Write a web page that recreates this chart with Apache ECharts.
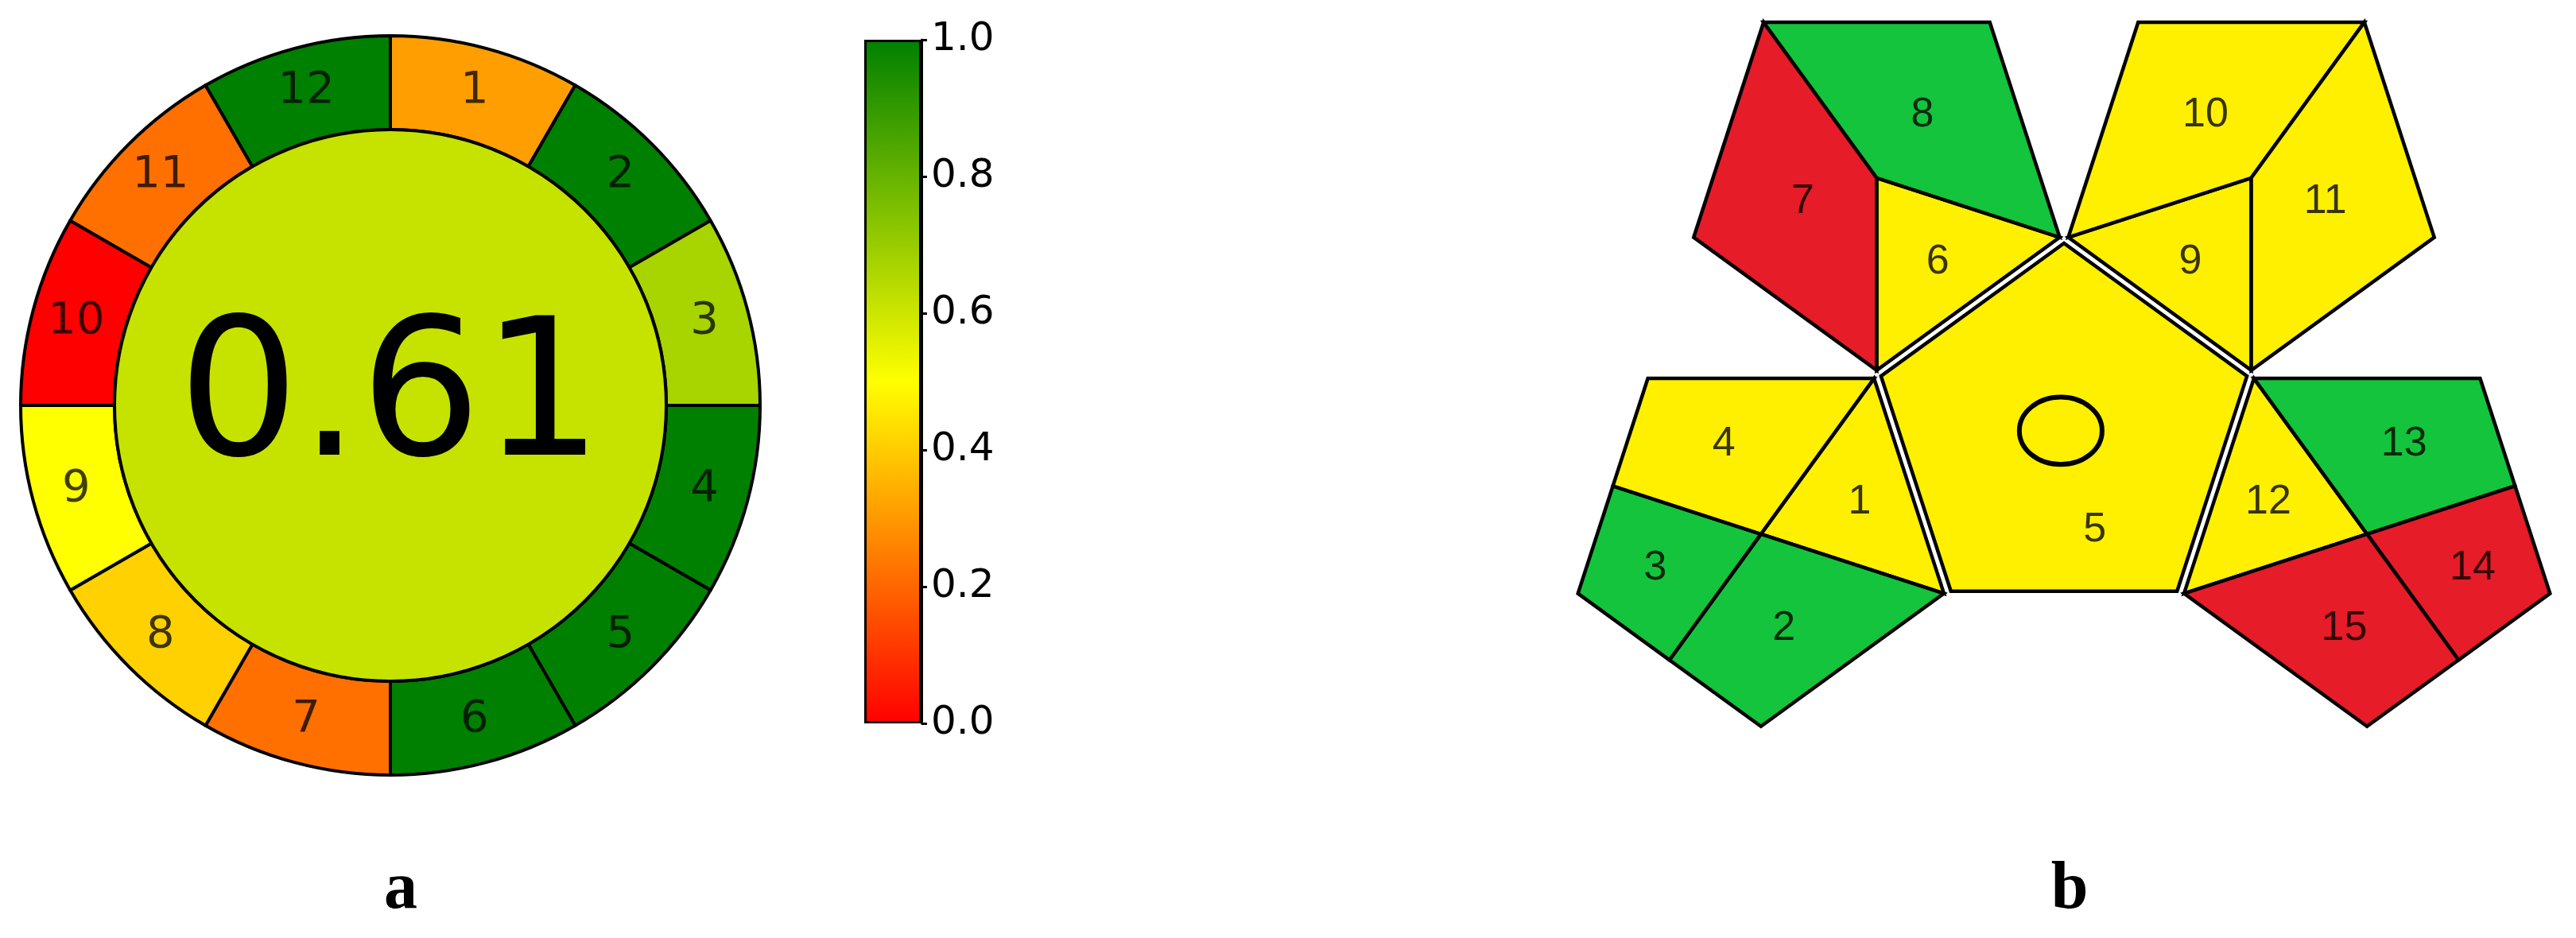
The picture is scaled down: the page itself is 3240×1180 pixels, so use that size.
<!DOCTYPE html>
<html>
<head>
<meta charset="utf-8">
<script src="https://cdn.jsdelivr.net/npm/echarts@6/dist/echarts.min.js"></script>
<style>
  html, body { margin: 0; padding: 0; background: #ffffff; }
  #chart { width: 3240px; height: 1180px; }
</style>
</head>
<body>
<div id="chart"></div>
<script>
// ---------------- DATA ----------------
// (a) AGREE pictogram: 12 principles, equal weights, scores 0..1
const agreeLabels  = ['1','2','3','4','5','6','7','8','9','10','11','12'];
const agreeWeights = [1,1,1,1,1,1,1,1,1,1,1,1];
const agreeScores  = [0.31, 1.0, 0.67, 1.0, 1.0, 1.0, 0.22, 0.41, 0.5, 0.0, 0.22, 1.0];
// colour-bar scale
const colorbarMin = 0, colorbarMax = 1, colorbarStep = 0.2;
// (b) GAPI pictogram: 15 fields, rating G = green, Y = yellow, R = red
const gapiFields  = ['1','2','3','4','5','6','7','8','9','10','11','12','13','14','15'];
const gapiRatings = ['Y','G','G','Y','Y','Y','R','G','Y','Y','Y','Y','G','R','R'];
// panel captions
const panelLabels = ['a', 'b'];

// ---------------- STYLE / GEOMETRY ----------------
const cmapStops = [[0, [255, 0, 0]], [0.5, [255, 255, 0]], [1, [0, 128, 0]]];
function cmap(v) {
  for (let i = 0; i < cmapStops.length - 1; i++) {
    const [a, ca] = cmapStops[i], [b, cb] = cmapStops[i + 1];
    if (v <= b || i === cmapStops.length - 2) {
      const t = Math.max(0, Math.min(1, (v - a) / (b - a)));
      const c = ca.map((x, k) => Math.round(x + (cb[k] - x) * t));
      return 'rgb(' + c.join(',') + ')';
    }
  }
}
const ratingColor = { G: '#14c43c', Y: '#fff000', R: '#e61c28' };

const meanScore = agreeScores.reduce((s, v, i) => s + v * agreeWeights[i], 0) /
                  agreeWeights.reduce((s, w) => s + w, 0);

// GAPI geometry in units of the pentagon circumradius (central pentagon at origin)
const DEG = Math.PI / 180;
const APO = Math.cos(36 * DEG);
const GAP = 0.038;
const gapiGeometry = [
  { p: 198, pts: [['V', 54], ['V', 342], ['C']] },                       // 1
  { p: 198, pts: [['C'], ['V', 342], ['V', 270], ['M', 198, 270]] },      // 2
  { p: 198, pts: [['M', 126, 198], ['C'], ['M', 198, 270], ['V', 198]] }, // 3
  { p: 198, pts: [['V', 126], ['V', 54], ['C'], ['M', 126, 198]] },       // 4
  { p: null, pts: [['V', 90], ['V', 162], ['V', 234], ['V', 306], ['V', 18]] }, // 5
  { p: 126, pts: [['C'], ['V', 342], ['V', 270]] },                       // 6
  { p: 126, pts: [['V', 198], ['V', 126], ['C'], ['V', 270]] },           // 7
  { p: 126, pts: [['V', 126], ['V', 54], ['V', 342], ['C']] },            // 8
  { p: 54,  pts: [['V', 198], ['C'], ['V', 270]] },                       // 9
  { p: 54,  pts: [['V', 126], ['V', 54], ['C'], ['V', 198]] },            // 10
  { p: 54,  pts: [['V', 54], ['V', 342], ['V', 270], ['C']] },            // 11
  { p: 342, pts: [['V', 126], ['C'], ['V', 198]] },                       // 12
  { p: 342, pts: [['V', 126], ['V', 54], ['M', 54, 342], ['C']] },        // 13
  { p: 342, pts: [['C'], ['M', 54, 342], ['V', 342], ['M', 342, 270]] },  // 14
  { p: 342, pts: [['V', 198], ['C'], ['M', 342, 270], ['V', 270]] }       // 15
];
function resolvePoint(ref, p) {
  const c = p === null ? [0, 0] :
    [(2 * APO + GAP) * Math.cos(p * DEG), (2 * APO + GAP) * Math.sin(p * DEG)];
  const V = a => [c[0] + Math.cos(a * DEG), c[1] + Math.sin(a * DEG)];
  if (ref[0] === 'C') return c;
  if (ref[0] === 'V') return V(ref[1]);
  const v1 = V(ref[1]), v2 = V(ref[2]);
  return [(v1[0] + v2[0]) / 2, (v1[1] + v2[1]) / 2];
}

// ---------------- CHART ----------------
const chart = echarts.init(document.getElementById('chart'), null, { renderer: 'canvas' });

const barGradient = new echarts.graphic.LinearGradient(0, 1, 0, 0,
  cmapStops.map(([o, c]) => ({ offset: o, color: 'rgb(' + c.join(',') + ')' })));

const option = {
  animation: false,
  backgroundColor: '#ffffff',
  grid: [
    { left: 1087, top: 50, width: 72, height: 860, show: false },
    { left: 1966.8, top: 15.6, width: 1258.4, height: 968, show: false }
  ],
  xAxis: [
    { gridIndex: 0, type: 'category', data: ['bar'], show: false },
    { gridIndex: 1, type: 'value', min: -2.6, max: 2.6, show: false }
  ],
  yAxis: [
    {
      gridIndex: 0, type: 'value', position: 'right',
      min: colorbarMin, max: colorbarMax, interval: colorbarStep,
      axisLine: { show: true, lineStyle: { color: '#000', width: 3 } },
      axisTick: { show: true, inside: false, length: 7, lineStyle: { color: '#000', width: 3 } },
      splitLine: { show: false },
      axisLabel: {
        margin: 12, fontSize: 50, color: '#000', fontFamily: 'DejaVu Sans',
        formatter: v => v.toFixed(1)
      }
    },
    { gridIndex: 1, type: 'value', min: -1.8, max: 2.2, show: false }
  ],
  series: [
    {
      type: 'pie',
      center: [491, 510],
      radius: [347, 465],
      startAngle: 90,
      clockwise: true,
      avoidLabelOverlap: false,
      emphasis: { disabled: true },
      itemStyle: { borderColor: '#000', borderWidth: 4 },
      label: {
        show: true, position: 'inside', rotate: 0,
        fontSize: 56, fontFamily: 'DejaVu Sans', color: 'rgba(0,0,0,0.75)',
        formatter: p => p.name
      },
      labelLine: { show: false },
      data: agreeLabels.map((l, i) => ({
        name: l, value: agreeWeights[i], itemStyle: { color: cmap(agreeScores[i]) }
      }))
    },
    {
      type: 'pie',
      center: [491, 510],
      radius: [0, 347],
      emphasis: { disabled: true },
      itemStyle: { borderColor: '#000', borderWidth: 4 },
      label: {
        show: true, position: 'center',
        fontSize: 240, fontFamily: 'DejaVu Sans', color: '#000',
        padding: [0, 0, 40, 0],
        formatter: () => meanScore.toFixed(2)
      },
      labelLine: { show: false },
      data: [{ name: 'score', value: 1, itemStyle: { color: cmap(meanScore) } }]
    },
    {
      type: 'bar',
      xAxisIndex: 0, yAxisIndex: 0,
      barWidth: '100%',
      emphasis: { disabled: true },
      itemStyle: { color: barGradient, borderColor: '#000', borderWidth: 3 },
      data: [colorbarMax]
    },
    {
      type: 'custom',
      coordinateSystem: 'cartesian2d',
      xAxisIndex: 1, yAxisIndex: 1,
      clip: false,
      data: gapiFields.map((f, i) => [i, 0]),
      renderItem: function (params, api) {
        const i = params.dataIndex;
        const geo = gapiGeometry[i];
        const unitPts = geo.pts.map(r => resolvePoint(r, geo.p));
        const pts = unitPts.map(q => api.coord(q));
        let lx, ly;
        if (geo.p === null) {
          const c = api.coord([0.16, -0.49]);
          lx = c[0]; ly = c[1];
        } else {
          lx = pts.reduce((s, q) => s + q[0], 0) / pts.length;
          ly = pts.reduce((s, q) => s + q[1], 0) / pts.length;
        }
        const children = [{
          type: 'polygon',
          shape: { points: pts },
          style: { fill: ratingColor[gapiRatings[i]], stroke: '#000', lineWidth: 4.5, lineJoin: 'miter' }
        }];
        if (geo.p === null) {
          const ec = api.coord([-0.017, 0.025]);
          const sz = api.size([0.215, 0.175]);
          children.push({
            type: 'ellipse',
            shape: { cx: ec[0], cy: ec[1], rx: sz[0], ry: sz[1] },
            style: { fill: ratingColor[gapiRatings[i]], stroke: '#000', lineWidth: 6 }
          });
        }
        children.push({
          type: 'text',
          style: {
            text: gapiFields[i], x: lx, y: ly,
            align: 'center', verticalAlign: 'middle',
            fontSize: 52, fontFamily: 'Liberation Sans', fill: 'rgba(0,0,0,0.78)'
          }
        });
        return { type: 'group', children: children };
      }
    }
  ],
  graphic: [
    {
      type: 'text', x: 504, y: 1120,
      style: {
        text: panelLabels[0], align: 'center', verticalAlign: 'middle',
        fontSize: 84, fontWeight: 'bold', fontFamily: 'Liberation Serif', fill: '#000'
      }
    },
    {
      type: 'text', x: 2603, y: 1120,
      style: {
        text: panelLabels[1], align: 'center', verticalAlign: 'middle',
        fontSize: 84, fontWeight: 'bold', fontFamily: 'Liberation Serif', fill: '#000'
      }
    }
  ]
};
chart.setOption(option);
</script>
</body>
</html>
